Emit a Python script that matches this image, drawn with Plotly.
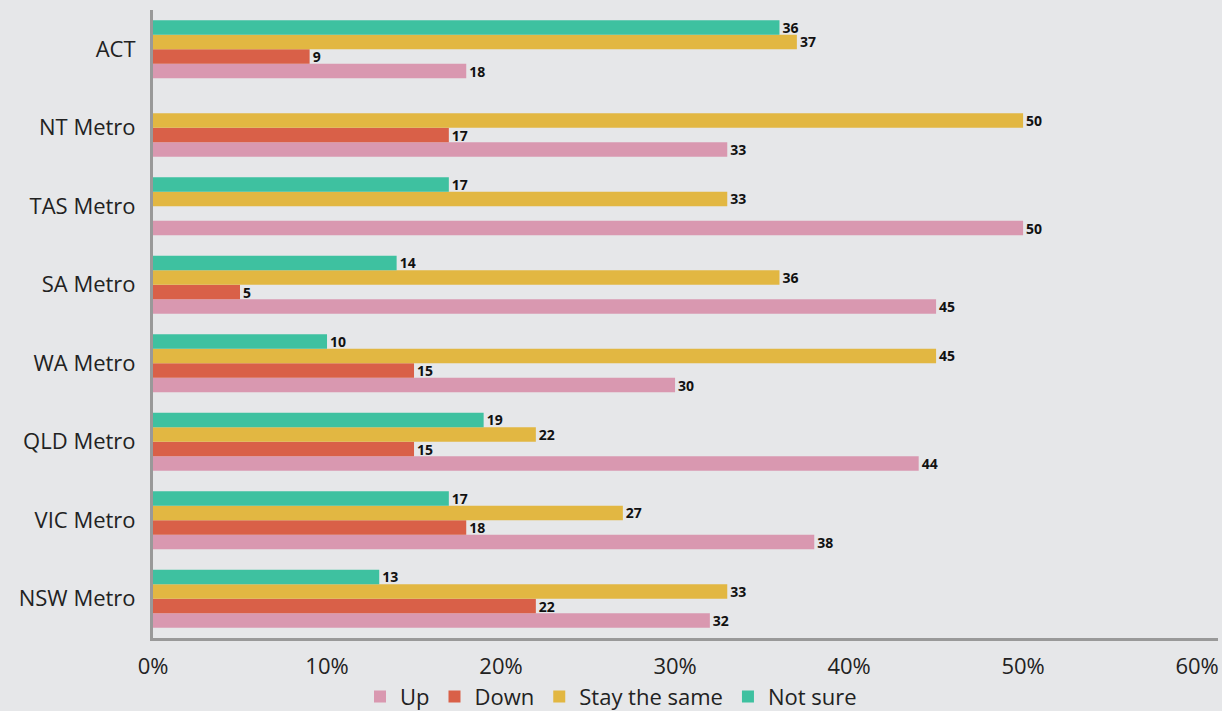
import plotly.graph_objects as go

categories = ["NSW Metro", "VIC Metro", "QLD Metro", "WA Metro", "SA Metro", "TAS Metro", "NT Metro", "ACT"]
up = [32, 38, 44, 30, 45, 50, 33, 18]
down = [22, 18, 15, 15, 5, None, 17, 9]
stay = [33, 27, 22, 45, 36, 33, 50, 37]
not_sure = [13, 17, 19, 10, 14, 17, None, 36]
tick_vals = [0, 10, 20, 30, 40, 50, 60]
tick_text = ["0%", "10%", "20%", "30%", "40%", "50%", "60%"]

series = [
    ("Up", up, "#d998b0"),
    ("Down", down, "#d96048"),
    ("Stay the same", stay, "#e2b742"),
    ("Not sure", not_sure, "#3ec1a0"),
]

bg = "#e6e7e9"
fig = go.Figure()
for name, vals, color in series:
    fig.add_trace(go.Bar(
        y=categories, x=vals, name=name, orientation="h",
        marker=dict(color=color, line=dict(width=0)),
        text=[("" if v is None else str(v)) for v in vals],
        textposition="outside", constraintext="none", cliponaxis=False,
        textfont=dict(family="Open Sans, sans-serif", size=14, color="#111111", weight="bold"),
        hoverinfo="x+name",
    ))

fig.update_layout(
    width=1222, height=711,
    paper_bgcolor=bg, plot_bgcolor=bg,
    barmode="group", bargap=0.26, bargroupgap=0,
    margin=dict(l=153, r=4, t=10, b=73, autoexpand=False),
    font=dict(family="Open Sans, sans-serif", size=22, color="#222222"),
    showlegend=True,
    legend=dict(orientation="h", x=0.5, xanchor="center", xref="container",
                y=0.02, yanchor="middle", yref="container",
                font=dict(size=22, color="#222222"), traceorder="normal",
                itemwidth=30, bgcolor="rgba(0,0,0,0)"),
    xaxis=dict(range=[0, 61.2], tickvals=tick_vals, ticktext=tick_text,
               showgrid=False, zeroline=False, showline=True, linecolor="#999999", linewidth=3,
               ticks="outside", ticklen=7, tickcolor=bg,
               tickfont=dict(size=22, color="#222222"), fixedrange=True),
    yaxis=dict(categoryorder="array", categoryarray=categories, showgrid=False, zeroline=False,
               showline=True, linecolor="#999999", linewidth=3, ticks="", ticklabelstandoff=10,
               tickfont=dict(size=22, color="#222222"), fixedrange=True),
)

fig.write_html("out.html")
